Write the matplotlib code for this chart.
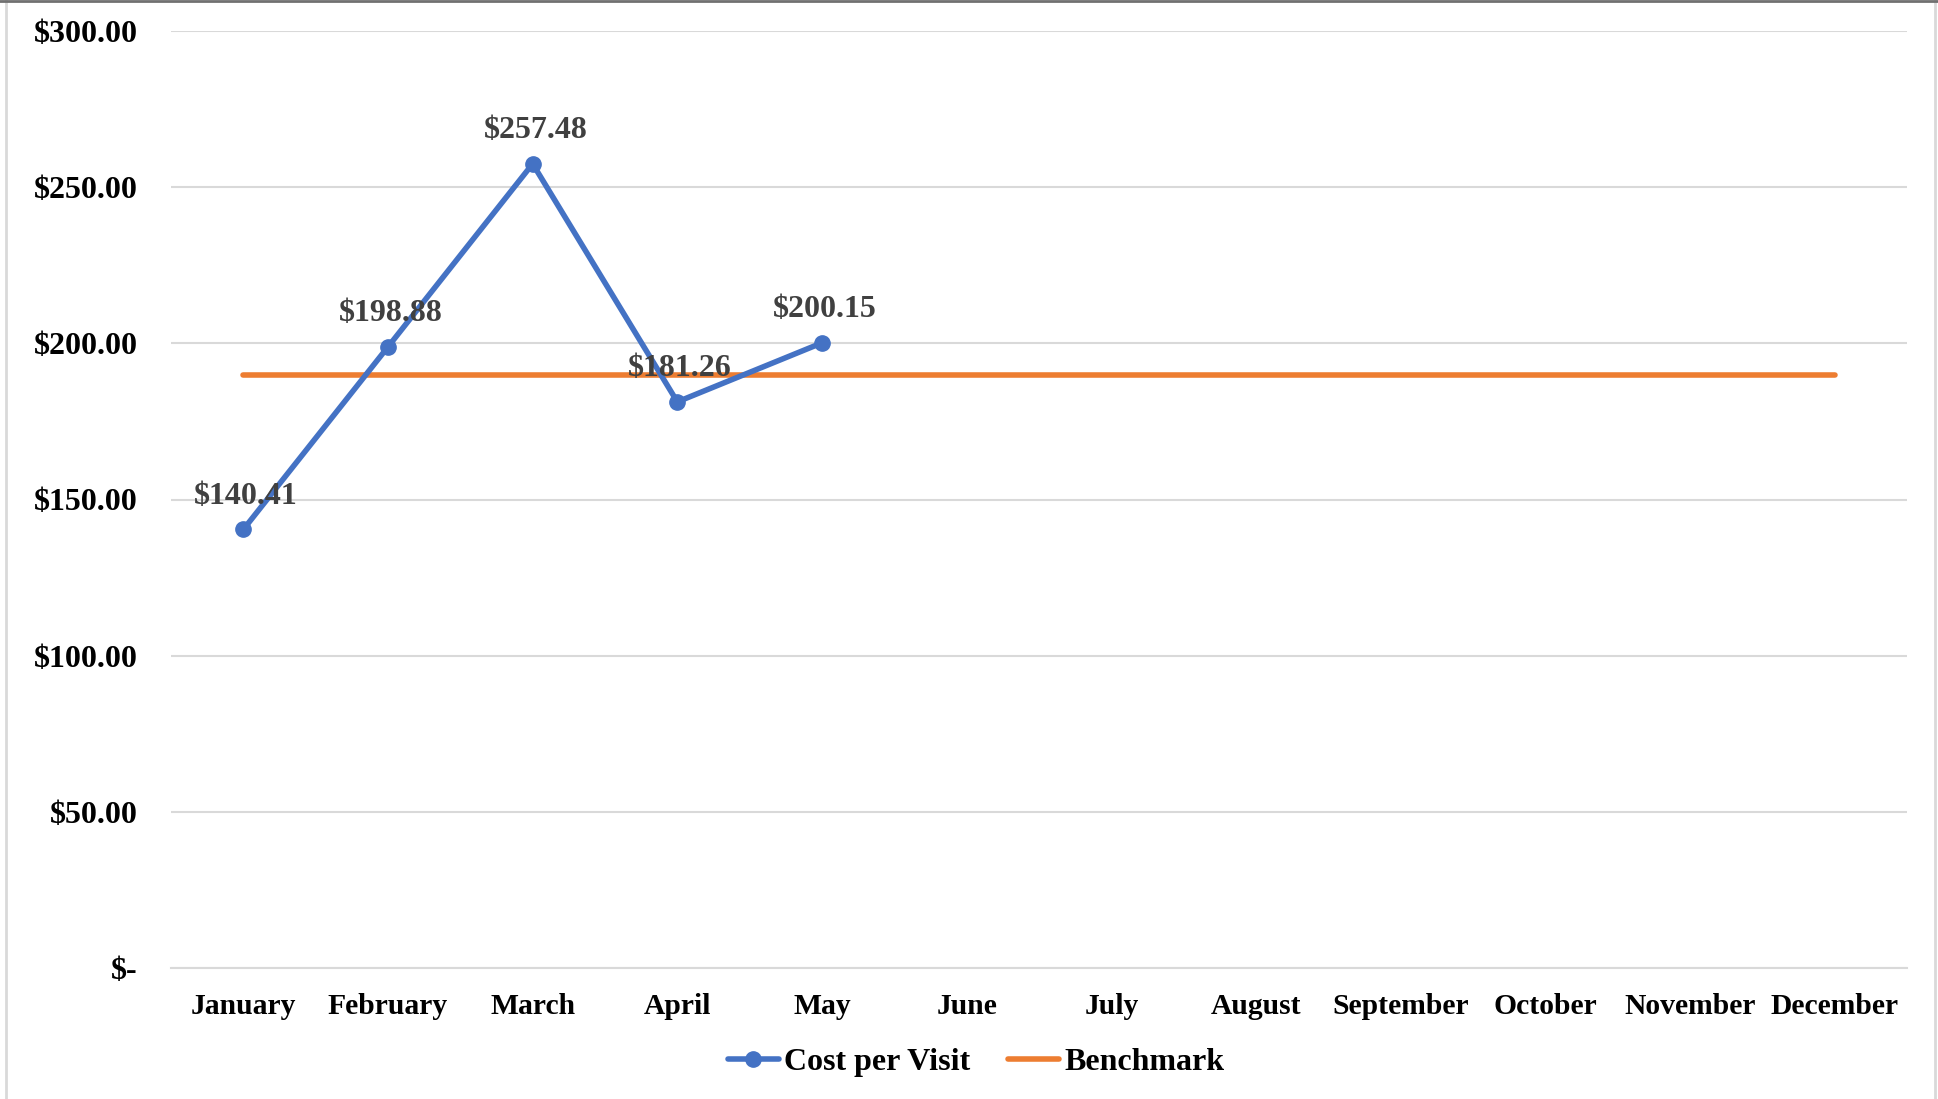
import matplotlib
matplotlib.use("Agg")
import matplotlib.pyplot as plt
from matplotlib.lines import Line2D

plt.rcParams["font.family"] = ["Liberation Serif", "DejaVu Serif"]
plt.rcParams["font.weight"] = "bold"

months = ["January", "February", "March", "April", "May", "June", "July",
          "August", "September", "October", "November", "December"]
cost = [140.41, 198.88, 257.48, 181.26, 200.15]
benchmark = [190.0] * 12
yticks = [0, 50, 100, 150, 200, 250, 300]
ylabels = ["$-", "$50.00", "$100.00", "$150.00", "$200.00", "$250.00", "$300.00"]

BLUE = "#4472C4"; ORANGE = "#ED7D31"; GRID = "#D9D9D9"
FS = 23

fig = plt.figure(figsize=(19.38, 10.99), dpi=100)
ax = fig.add_axes([171/1938, 1-968/1099, 1736/1938, 937/1099])

ax.plot(range(12), benchmark, color=ORANGE, lw=4.0, solid_capstyle="round", zorder=2)
ax.plot(range(len(cost)), cost, color=BLUE, lw=4.0, marker="o", ms=11,
        solid_capstyle="round", solid_joinstyle="miter", zorder=3)
for i, v in enumerate(cost):
    ax.annotate(f"${v:.2f}", (i, v), textcoords="offset points", xytext=(2, 24),
                ha="center", va="center", fontsize=FS, color="#404040", fontweight="bold", zorder=4)

ax.set_xlim(-0.5, 11.5)
ax.set_ylim(0, 300)
ax.set_yticks(yticks)
ax.set_yticklabels(ylabels, fontsize=FS, fontweight="bold")
ax.set_xticks(range(12))
ax.set_xticklabels(months, fontsize=21.3, fontweight="bold")
ax.tick_params(axis="both", length=0)
ax.tick_params(axis="y", pad=24)
ax.tick_params(axis="x", pad=18)
ax.grid(True, axis="y", color=GRID, lw=1.5)
ax.set_axisbelow(True)
for s in ["top", "right", "left"]:
    ax.spines[s].set_visible(False)
ax.spines["bottom"].set_color(GRID)
ax.spines["bottom"].set_linewidth(1.5)

handles = [Line2D([], [], color=BLUE, lw=4.0, marker="o", ms=11, solid_capstyle="round"),
           Line2D([], [], color=ORANGE, lw=4.0, solid_capstyle="round")]
fig.legend(handles, ["Cost per Visit", "Benchmark"], loc="center", bbox_to_anchor=(976/1938, 1-1062/1099),
           ncol=2, frameon=False, handlelength=1.6, handletextpad=0.15, columnspacing=1.2,
           prop={"weight": "bold", "size": FS})

# chart frame
fig.add_artist(Line2D([6/1938, 6/1938], [0, 1], color=GRID, lw=2, transform=fig.transFigure))
fig.add_artist(Line2D([1935/1938, 1935/1938], [0, 1], color=GRID, lw=2, transform=fig.transFigure))
fig.add_artist(Line2D([0, 1], [1-1/1099, 1-1/1099], color="#707070", lw=2, transform=fig.transFigure))

fig.savefig("out.png", dpi=100)
